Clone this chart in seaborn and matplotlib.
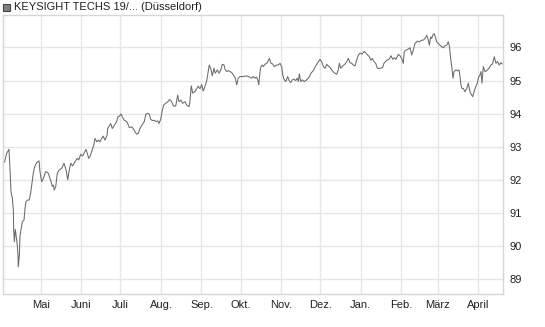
import numpy as np
import pandas as pd
import matplotlib
matplotlib.use("Agg")
import matplotlib.pyplot as plt
from matplotlib.patches import Rectangle
import seaborn as sns

# ---- data ----
start_date = "2024-04-02"
end_date = "2025-04-20"
legend_label = "KEYSIGHT TECHS 19/... (Düsseldorf)"
month_starts = ["2024-05-01", "2024-06-01", "2024-07-01", "2024-08-01", "2024-09-01",
                "2024-10-01", "2024-11-01", "2024-12-01", "2025-01-01", "2025-02-01",
                "2025-03-01", "2025-04-01"]
month_labels = ["Mai", "Juni", "Juli", "Aug.", "Sep.", "Okt.", "Nov.", "Dez.",
                "Jan.", "Feb.", "März", "April"]
y_ticks = [89, 90, 91, 92, 93, 94, 95, 96]

days = [0.0, 1.3, 2.8, 4.6, 5.4, 6.1, 7.1, 7.9, 8.2, 8.7, 9.4, 10.0, 11.0, 11.5, 11.7, 12.5,
        13.0, 14.0, 14.8, 16.1, 16.9, 17.6, 18.9, 20.1, 21.2, 22.2, 23.2, 24.3, 25.8, 27.6,
        28.3, 29.6, 30.9, 32.7, 34.7, 36.0, 36.8, 37.8, 38.5, 39.3, 40.4, 41.6, 43.1, 45.0,
        46.7, 48.3, 49.6, 50.3, 51.9, 53.4, 55.2, 56.9, 58.0, 59.5, 61.0, 62.0, 63.6, 64.6,
        65.6, 66.6, 67.9, 69.5, 70.5, 71.8, 73.0, 74.3, 75.6, 76.8, 78.1, 79.7, 80.2, 81.2,
        82.5, 83.7, 85.3, 87.1, 87.9, 89.1, 90.4, 91.4, 92.9, 94.8, 95.5, 96.7, 98.6, 99.8,
        101.1, 102.4, 103.6, 104.9, 106.7, 108.2, 109.5, 110.8, 112.1, 113.1, 114.4, 115.7,
        117.2, 118.5, 119.5, 120.8, 122.0, 123.1, 124.6, 126.2, 127.7, 129.2, 130.5, 132.3,
        133.1, 133.8, 134.8, 136.3, 137.6, 139.4, 140.7, 142.5, 143.2, 144.2, 145.3, 147.1,
        148.4, 149.6, 150.9, 152.2, 153.4, 154.7, 156.0, 157.0, 158.0, 159.3, 160.3, 161.6,
        162.6, 164.2, 165.5, 166.8, 168.0, 169.3, 170.1, 171.4, 172.6, 173.9, 175.2, 176.4,
        177.7, 179.0, 180.2, 181.5, 184.1, 186.7, 187.9, 189.2, 190.5, 191.7, 193.0, 194.3,
        195.3, 195.9, 196.9, 197.6, 198.6, 199.4, 200.7, 202.5, 204.0, 205.3, 206.6, 207.8,
        209.6, 210.9, 212.2, 213.5, 214.3, 215.2, 216.6, 218.1, 219.1, 220.4, 221.6, 222.9,
        224.2, 225.4, 226.2, 227.0, 228.0, 229.3, 230.8, 232.6, 234.4, 235.9, 237.7, 239.5,
        241.1, 242.8, 244.1, 245.4, 246.7, 248.0, 249.2, 250.5, 251.8, 253.5, 255.6, 256.8,
        257.6, 258.7, 260.2, 262.0, 263.3, 264.5, 265.8, 267.1, 268.3, 269.6, 270.9, 272.2,
        273.5, 275.2, 276.8, 278.6, 280.4, 281.7, 282.9, 284.2, 285.5, 286.7, 288.8, 290.8,
        291.8, 293.4, 294.4, 295.9, 297.2, 298.5, 300.0, 301.0, 302.8, 304.1, 305.4, 306.6,
        307.4, 308.7, 310.5, 311.8, 313.1, 314.3, 315.6, 317.4, 318.9, 320.7, 322.0, 323.3,
        324.6, 325.8, 326.6, 327.6, 328.4, 329.2, 330.2, 331.2, 332.2, 333.4, 334.7, 336.0,
        337.3, 338.6, 339.9, 341.1, 341.9, 342.9, 343.9, 344.7, 345.5, 347.0, 348.3, 349.3,
        350.1, 350.8, 351.6, 352.6, 353.9, 355.2, 356.4, 357.7, 359.0, 359.8, 360.8, 362.1,
        363.3, 364.4, 365.4, 366.1, 366.9, 367.9, 369.2, 370.5, 372.4, 373.7, 375.0, 376.3,
        377.6, 378.8, 380.1, 381.4, 382.5]

prices = [92.50, 92.55, 92.80, 92.92, 92.30, 91.64, 91.45, 91.10, 90.48, 90.13, 90.50, 90.33,
          90.00, 89.70, 89.37, 89.70, 90.30, 90.55, 90.73, 90.79, 91.15, 91.34, 91.39, 91.39,
          91.60, 91.90, 92.20, 92.40, 92.52, 92.57, 92.25, 91.94, 92.04, 92.25, 92.20, 92.04,
          91.94, 91.80, 91.84, 91.69, 91.80, 92.20, 92.30, 92.35, 92.50, 92.30, 92.00, 92.20,
          92.50, 92.42, 92.55, 92.65, 92.60, 92.77, 92.72, 92.80, 92.92, 92.80, 92.65, 92.70,
          92.85, 93.05, 93.25, 93.15, 93.20, 93.15, 93.25, 93.32, 93.20, 93.35, 93.55, 93.62,
          93.70, 93.55, 93.65, 93.76, 93.90, 93.92, 93.99, 93.90, 93.80, 93.76, 93.70, 93.58,
          93.60, 93.55, 93.45, 93.38, 93.40, 93.55, 93.67, 93.76, 93.99, 94.01, 93.98, 93.83,
          93.79, 93.80, 93.76, 93.78, 93.70, 93.83, 94.09, 94.26, 94.31, 94.36, 94.43, 94.36,
          94.23, 94.23, 94.41, 94.56, 94.36, 94.41, 94.31, 94.36, 94.26, 94.21, 94.36, 94.84,
          94.62, 94.67, 94.75, 94.83, 94.75, 94.88, 94.68, 94.83, 94.98, 95.23, 95.47, 95.34,
          95.14, 95.37, 95.22, 95.32, 95.22, 95.32, 95.49, 95.47, 95.34, 95.27, 95.30, 95.27,
          95.24, 95.17, 95.10, 94.87, 95.07, 95.12, 95.12, 95.14, 95.12, 95.10, 95.07, 95.12,
          95.07, 95.10, 95.00, 94.87, 95.27, 95.42, 95.47, 95.42, 95.49, 95.54, 95.67, 95.52,
          95.50, 95.42, 95.47, 95.47, 95.52, 95.42, 95.17, 95.04, 94.97, 95.12, 95.00, 94.94,
          95.02, 95.04, 95.00, 95.07, 94.97, 95.20, 94.97, 95.02, 94.97, 95.02, 95.10, 95.22,
          95.30, 95.44, 95.54, 95.64, 95.57, 95.42, 95.37, 95.49, 95.44, 95.40, 95.32, 95.24,
          95.19, 95.32, 95.52, 95.37, 95.44, 95.50, 95.57, 95.67, 95.54, 95.52, 95.47, 95.44,
          95.62, 95.77, 95.83, 95.80, 95.88, 95.80, 95.73, 95.61, 95.67, 95.57, 95.52, 95.37,
          95.37, 95.39, 95.52, 95.59, 95.62, 95.65, 95.75, 95.64, 95.69, 95.64, 95.79, 95.75,
          95.67, 95.52, 95.87, 95.92, 95.95, 95.99, 95.77, 95.92, 96.12, 96.19, 96.17, 96.22,
          96.22, 96.27, 96.37, 96.22, 96.07, 96.32, 96.27, 96.37, 96.42, 96.32, 96.17, 96.12,
          96.07, 96.02, 95.99, 96.05, 96.07, 96.17, 96.05, 95.67, 95.37, 95.07, 95.27, 95.32,
          95.29, 95.32, 95.12, 94.86, 94.76, 94.76, 94.66, 94.76, 94.92, 94.66, 94.56, 94.51,
          94.66, 94.81, 94.92, 95.11, 95.17, 95.27, 94.92, 95.42, 95.27, 95.30, 95.37, 95.47,
          95.50, 95.72, 95.52, 95.57, 95.47, 95.54, 95.50]

# ---- build frame ----
t0 = pd.Timestamp(start_date)
df = pd.DataFrame({
    "date": t0 + pd.to_timedelta(np.array(days), unit="D"),
    "price": prices,
})

sns.set_style("white")
plt.rcParams["font.family"] = ["Liberation Sans", "DejaVu Sans"]

fig = plt.figure(figsize=(5.45, 3.27), dpi=100)
ax = fig.add_axes([3 / 545, (327 - 294) / 327, 500 / 545, (294 - 15) / 327])

sns.lineplot(data=df, x="date", y="price", ax=ax, color="#6a6a6a", linewidth=0.75,
             estimator=None, sort=False)

ax.set_xlim(pd.Timestamp(start_date), pd.Timestamp(end_date))
ax.set_ylim(88.55, 96.98)

ax.set_xticks(pd.to_datetime(month_starts))
ax.set_xticklabels(month_labels)
ax.set_yticks(y_ticks)
ax.set_yticklabels([str(v) for v in y_ticks])

ax.yaxis.tick_right()
ax.tick_params(axis="y", length=0, pad=5, labelsize=8, colors="#222222")
ax.tick_params(axis="x", length=0, pad=4, labelsize=8, colors="#222222")

ax.grid(True, color="#e6e6e6", linewidth=1.0)
ax.set_axisbelow(True)
for s in ax.spines.values():
    s.set_visible(True)
    s.set_color("#d6d6d6")
    s.set_linewidth(1.0)

ax.set_xlabel("")
ax.set_ylabel("")
leg = ax.get_legend()
if leg is not None:
    leg.remove()

# legend-like header
fig.patches.append(Rectangle((3 / 545, 1 - 11 / 327), 7 / 545, 7 / 327,
                             transform=fig.transFigure, facecolor="#808080",
                             edgecolor="#444444", linewidth=0.8))
fig.text(14 / 545, 1 - 7.5 / 327, legend_label, fontsize=8, va="center", ha="left",
         color="#222222")

fig.savefig("out.png", dpi=100)
